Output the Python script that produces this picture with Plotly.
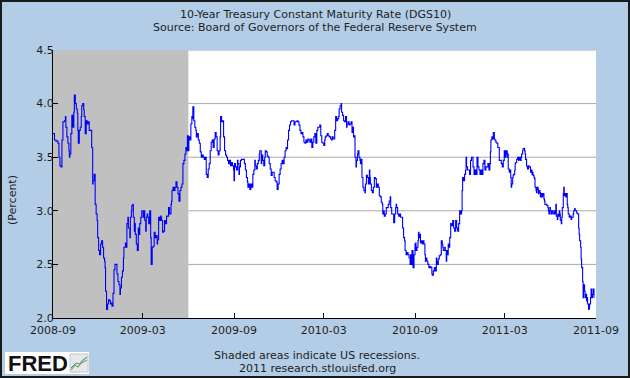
import plotly.graph_objects as go

# ---------------- data ----------------
dates = [
 "2008-09-01","2008-09-04","2008-09-07","2008-09-11","2008-09-13","2008-09-15","2008-09-17","2008-09-19","2008-09-21","2008-09-24",
 "2008-09-26","2008-09-27","2008-09-29","2008-10-01","2008-10-03","2008-10-04","2008-10-05","2008-10-07","2008-10-09","2008-10-11",
 "2008-10-13","2008-10-14","2008-10-16","2008-10-18","2008-10-20","2008-10-21","2008-10-22","2008-10-24","2008-10-26","2008-10-28",
 "2008-10-29","2008-10-31","2008-11-02","2008-11-03","2008-11-05","2008-11-07","2008-11-09","2008-11-11","2008-11-13","2008-11-15",
 "2008-11-18","2008-11-20","2008-11-21","2008-11-23","2008-11-25","2008-11-27","2008-11-29","2008-11-30","2008-12-02","2008-12-04",
 "2008-12-06","2008-12-08","2008-12-10","2008-12-12","2008-12-14","2008-12-15","2008-12-16","2008-12-18","2008-12-20","2008-12-22",
 "2008-12-24","2008-12-26","2008-12-28","2008-12-29","2008-12-31","2009-01-02","2009-01-04","2009-01-06","2009-01-08","2009-01-10",
 "2009-01-12","2009-01-14","2009-01-15","2009-01-17","2009-01-19","2009-01-21","2009-01-22","2009-01-24","2009-01-25","2009-01-27",
 "2009-01-28","2009-01-30","2009-01-31","2009-02-03","2009-02-04","2009-02-06","2009-02-07","2009-02-09","2009-02-10","2009-02-12",
 "2009-02-13","2009-02-14","2009-02-16","2009-02-18","2009-02-20","2009-02-21","2009-02-23","2009-02-25","2009-02-27",
 "2009-03-02","2009-03-03","2009-03-05","2009-03-07","2009-03-08","2009-03-10","2009-03-11","2009-03-13","2009-03-15","2009-03-17",
 "2009-03-18","2009-03-20","2009-03-22","2009-03-24","2009-03-26","2009-03-28","2009-03-30","2009-03-31","2009-04-02","2009-04-04",
 "2009-04-06","2009-04-07","2009-04-08","2009-04-10","2009-04-12","2009-04-14","2009-04-16","2009-04-18","2009-04-20","2009-04-22",
 "2009-04-24","2009-04-27","2009-04-28","2009-04-29","2009-05-01","2009-05-03","2009-05-05","2009-05-07","2009-05-09","2009-05-11",
 "2009-05-13","2009-05-15","2009-05-17","2009-05-19","2009-05-21","2009-05-23","2009-05-25","2009-05-27","2009-05-28","2009-05-30",
 "2009-06-01","2009-06-02","2009-06-04","2009-06-06","2009-06-08","2009-06-09","2009-06-10","2009-06-12","2009-06-14","2009-06-16",
 "2009-06-17","2009-06-19","2009-06-21","2009-06-23","2009-06-25","2009-06-27","2009-06-29","2009-07-01","2009-07-03","2009-07-05",
 "2009-07-07","2009-07-09","2009-07-11","2009-07-13","2009-07-15","2009-07-17","2009-07-19","2009-07-21","2009-07-23","2009-07-25",
 "2009-07-27","2009-07-29","2009-07-31","2009-08-02","2009-08-04","2009-08-05","2009-08-07","2009-08-09","2009-08-11","2009-08-13",
 "2009-08-15","2009-08-17","2009-08-19","2009-08-21","2009-08-23","2009-08-25","2009-08-27","2009-08-29","2009-08-31",
 "2009-09-01","2009-09-02","2009-09-04","2009-09-06","2009-09-08","2009-09-09","2009-09-11","2009-09-12","2009-09-14","2009-09-16",
 "2009-09-18","2009-09-20","2009-09-22","2009-09-24","2009-09-26","2009-09-28","2009-09-29","2009-10-01","2009-10-03","2009-10-05",
 "2009-10-07","2009-10-09","2009-10-11","2009-10-13","2009-10-14","2009-10-16","2009-10-18","2009-10-20","2009-10-22","2009-10-23",
 "2009-10-24","2009-10-26","2009-10-27","2009-10-29","2009-10-31","2009-11-02","2009-11-03","2009-11-05","2009-11-07","2009-11-09",
 "2009-11-11","2009-11-13","2009-11-15","2009-11-17","2009-11-19","2009-11-21","2009-11-23","2009-11-25","2009-11-27","2009-11-29",
 "2009-12-01","2009-12-03","2009-12-05","2009-12-07","2009-12-09","2009-12-11","2009-12-13","2009-12-15","2009-12-17","2009-12-18",
 "2009-12-20","2009-12-22","2009-12-24","2009-12-26","2009-12-29","2009-12-31","2010-01-02","2010-01-04","2010-01-06","2010-01-08",
 "2010-01-10","2010-01-12","2010-01-14","2010-01-16","2010-01-18","2010-01-20","2010-01-22","2010-01-24","2010-01-26","2010-01-28",
 "2010-01-30","2010-02-01","2010-02-03","2010-02-05","2010-02-07","2010-02-09","2010-02-11","2010-02-13","2010-02-15","2010-02-17",
 "2010-02-19","2010-02-21","2010-02-23","2010-02-25","2010-02-27",
 "2010-03-01","2010-03-03","2010-03-04","2010-03-06","2010-03-08","2010-03-10","2010-03-12","2010-03-15","2010-03-17","2010-03-18",
 "2010-03-20","2010-03-22","2010-03-23","2010-03-25","2010-03-27","2010-03-29","2010-03-31","2010-04-01","2010-04-03","2010-04-05",
 "2010-04-06","2010-04-08","2010-04-10","2010-04-12","2010-04-14","2010-04-16","2010-04-17","2010-04-19","2010-04-21","2010-04-23",
 "2010-04-25","2010-04-27","2010-04-28","2010-04-30","2010-05-02","2010-05-03","2010-05-05","2010-05-06","2010-05-08","2010-05-09",
 "2010-05-11","2010-05-13","2010-05-14","2010-05-15","2010-05-17","2010-05-19","2010-05-21","2010-05-23","2010-05-24","2010-05-26",
 "2010-05-28","2010-05-30","2010-06-01","2010-06-02","2010-06-03","2010-06-05","2010-06-07","2010-06-09","2010-06-11","2010-06-13",
 "2010-06-15","2010-06-17","2010-06-19","2010-06-21","2010-06-23","2010-06-25","2010-06-27","2010-06-28","2010-06-29","2010-07-01",
 "2010-07-03","2010-07-05","2010-07-07","2010-07-09","2010-07-11","2010-07-13","2010-07-14","2010-07-16","2010-07-18","2010-07-20",
 "2010-07-22","2010-07-24","2010-07-25","2010-07-26","2010-07-28","2010-07-30","2010-08-01","2010-08-03","2010-08-05","2010-08-07",
 "2010-08-09","2010-08-11","2010-08-12","2010-08-14","2010-08-16","2010-08-18","2010-08-20","2010-08-22","2010-08-23","2010-08-25",
 "2010-08-26",
 "2010-08-28","2010-08-30","2010-09-01","2010-09-02","2010-09-03","2010-09-05","2010-09-07","2010-09-08","2010-09-09","2010-09-11",
 "2010-09-12","2010-09-14","2010-09-16","2010-09-18","2010-09-19","2010-09-21","2010-09-22","2010-09-23","2010-09-25","2010-09-27",
 "2010-09-29","2010-10-01","2010-10-03","2010-10-05","2010-10-06","2010-10-08","2010-10-10","2010-10-12","2010-10-14","2010-10-15",
 "2010-10-16","2010-10-18","2010-10-20","2010-10-22","2010-10-24","2010-10-26","2010-10-27","2010-10-28","2010-10-30","2010-10-31",
 "2010-11-01","2010-11-03","2010-11-04","2010-11-05","2010-11-07","2010-11-08","2010-11-10","2010-11-12","2010-11-14","2010-11-16",
 "2010-11-18","2010-11-20","2010-11-22","2010-11-24","2010-11-26","2010-11-28","2010-11-30","2010-12-02","2010-12-04","2010-12-05",
 "2010-12-06","2010-12-08","2010-12-10","2010-12-12","2010-12-13","2010-12-14","2010-12-16","2010-12-18","2010-12-20","2010-12-22",
 "2010-12-24","2010-12-27","2010-12-29","2010-12-31","2011-01-02","2011-01-04","2011-01-06","2011-01-08","2011-01-10","2011-01-12",
 "2011-01-14","2011-01-16","2011-01-18","2011-01-20","2011-01-22","2011-01-24","2011-01-26","2011-01-28","2011-01-30","2011-01-31",
 "2011-02-01","2011-02-03","2011-02-05","2011-02-06","2011-02-08","2011-02-09","2011-02-11","2011-02-13","2011-02-15","2011-02-18",
 "2011-02-20","2011-02-22","2011-02-24","2011-02-26",
 "2011-02-27","2011-02-28","2011-03-02","2011-03-03","2011-03-04","2011-03-06","2011-03-07","2011-03-08","2011-03-10","2011-03-11",
 "2011-03-13","2011-03-14","2011-03-15","2011-03-17","2011-03-18","2011-03-19","2011-03-21","2011-03-22","2011-03-23","2011-03-25",
 "2011-03-26","2011-03-27","2011-03-29","2011-03-30","2011-03-31","2011-04-02","2011-04-03","2011-04-04","2011-04-06","2011-04-07",
 "2011-04-08","2011-04-10","2011-04-11","2011-04-12","2011-04-14","2011-04-15","2011-04-16","2011-04-18","2011-04-19","2011-04-20",
 "2011-04-22","2011-04-23","2011-04-25","2011-04-26","2011-04-27","2011-04-29","2011-04-30","2011-05-01","2011-05-03","2011-05-04",
 "2011-05-05","2011-05-07","2011-05-08","2011-05-09","2011-05-11","2011-05-12","2011-05-13","2011-05-15","2011-05-16","2011-05-17",
 "2011-05-19","2011-05-20","2011-05-21","2011-05-23","2011-05-24","2011-05-25","2011-05-27","2011-05-28","2011-05-29","2011-05-31",
 "2011-06-01","2011-06-03","2011-06-04","2011-06-05","2011-06-07","2011-06-08","2011-06-09","2011-06-11","2011-06-12","2011-06-13",
 "2011-06-15","2011-06-16","2011-06-17","2011-06-19","2011-06-20","2011-06-21","2011-06-23","2011-06-24","2011-06-25","2011-06-27",
 "2011-06-28","2011-06-29","2011-07-01","2011-07-02","2011-07-03","2011-07-05","2011-07-06","2011-07-07","2011-07-09","2011-07-10",
 "2011-07-11","2011-07-13","2011-07-14","2011-07-16","2011-07-17","2011-07-18","2011-07-20","2011-07-21","2011-07-22","2011-07-24",
 "2011-07-25","2011-07-26","2011-07-28","2011-07-29","2011-07-30","2011-08-01","2011-08-02","2011-08-03","2011-08-05","2011-08-06",
 "2011-08-07","2011-08-09","2011-08-10","2011-08-11","2011-08-13","2011-08-14","2011-08-15","2011-08-17","2011-08-18","2011-08-19",
 "2011-08-21","2011-08-22","2011-08-24","2011-08-25","2011-08-27","2011-08-28",
]

rate = [
 3.72,3.66,3.65,3.63,3.50,3.42,3.41,3.66,3.83,3.84,
 3.88,3.78,3.69,3.63,3.56,3.50,3.53,3.72,3.89,3.78,
 3.92,4.08,4.00,3.95,3.91,3.75,3.63,3.75,3.78,3.88,
 3.98,4.00,3.94,3.88,3.72,3.84,3.81,3.83,3.75,3.75,
 3.59,3.25,3.28,3.34,3.06,2.97,2.91,2.75,2.63,2.59,
 2.69,2.72,2.66,2.56,2.53,2.47,2.25,2.08,2.13,2.17,
 2.16,2.13,2.14,2.11,2.23,2.45,2.50,2.50,2.41,2.34,
 2.31,2.22,2.28,2.38,2.44,2.56,2.66,2.66,2.70,2.66,
 2.88,2.94,2.84,2.75,2.94,3.00,3.05,3.06,2.94,2.81,
 2.88,2.78,2.69,2.63,2.84,2.78,2.88,2.94,3.00,
 2.94,3.00,2.91,2.81,2.94,2.97,2.94,2.88,3.00,2.75,
 2.50,2.66,2.67,2.80,2.75,2.77,2.69,2.73,2.94,2.91,
 2.95,2.94,2.91,2.80,2.81,2.91,2.88,2.95,2.95,3.03,
 2.97,3.06,3.09,3.19,3.22,3.19,3.22,3.27,3.22,3.16,
 3.09,3.19,3.22,3.25,3.44,3.47,3.53,3.59,3.56,3.70,
 3.56,3.69,3.66,3.81,3.88,3.86,3.97,3.84,3.78,3.75,
 3.69,3.72,3.66,3.63,3.55,3.50,3.52,3.50,3.48,3.50,
 3.34,3.31,3.39,3.44,3.56,3.64,3.66,3.59,3.67,3.73,
 3.69,3.56,3.52,3.56,3.69,3.88,3.83,3.84,3.69,3.56,
 3.52,3.50,3.47,3.44,3.47,3.42,3.45,3.42,3.38,
 3.28,3.44,3.41,3.38,3.47,3.44,3.34,3.41,3.47,3.48,
 3.48,3.48,3.44,3.38,3.31,3.27,3.22,3.25,3.20,3.25,
 3.22,3.34,3.38,3.47,3.42,3.39,3.44,3.47,3.53,3.56,
 3.56,3.44,3.52,3.47,3.42,3.50,3.56,3.55,3.51,3.50,
 3.44,3.39,3.33,3.36,3.36,3.31,3.28,3.27,3.20,3.25,
 3.34,3.39,3.44,3.47,3.44,3.50,3.56,3.59,3.58,3.66,
 3.75,3.80,3.83,3.84,3.84,3.80,3.83,3.83,3.84,3.83,
 3.80,3.75,3.72,3.73,3.69,3.64,3.63,3.66,3.64,3.67,
 3.66,3.64,3.67,3.59,3.64,3.69,3.72,3.63,3.75,3.78,
 3.78,3.80,3.70,3.64,3.63,
 3.61,3.66,3.69,3.70,3.72,3.70,3.69,3.67,3.66,3.69,
 3.67,3.67,3.75,3.88,3.84,3.86,3.88,3.95,3.98,4.00,
 3.92,3.89,3.84,3.83,3.88,3.78,3.81,3.83,3.80,3.81,
 3.83,3.73,3.78,3.69,3.70,3.50,3.41,3.47,3.53,3.56,
 3.50,3.47,3.44,3.48,3.31,3.22,3.19,3.17,3.25,3.33,
 3.31,3.25,3.38,3.31,3.25,3.19,3.17,3.22,3.31,3.30,
 3.22,3.25,3.22,3.14,3.13,3.08,3.06,2.97,3.00,2.95,
 2.97,3.03,3.03,3.06,3.09,3.13,3.03,2.97,2.97,2.89,
 2.97,3.03,3.06,3.03,2.97,2.95,2.97,2.94,2.94,2.84,
 2.75,2.72,2.63,2.59,2.61,2.59,2.56,2.50,2.59,2.50,
 2.63,
 2.47,2.59,2.69,2.70,2.63,2.66,2.72,2.80,2.75,2.78,
 2.70,2.72,2.69,2.72,2.69,2.59,2.53,2.56,2.53,2.50,
 2.47,2.48,2.47,2.41,2.40,2.44,2.47,2.44,2.56,2.53,
 2.50,2.55,2.58,2.59,2.72,2.69,2.66,2.63,2.63,2.66,
 2.63,2.53,2.63,2.59,2.69,2.66,2.75,2.88,2.86,2.91,
 2.84,2.81,2.91,2.84,2.81,2.88,3.00,2.97,3.00,3.19,
 3.31,3.28,3.34,3.38,3.50,3.41,3.38,3.38,3.34,3.47,
 3.50,3.41,3.34,3.38,3.34,3.50,3.41,3.38,3.34,3.38,
 3.34,3.44,3.47,3.38,3.41,3.41,3.44,3.38,3.44,3.55,
 3.66,3.69,3.67,3.73,3.67,3.66,3.64,3.63,3.59,3.47,
 3.47,3.44,3.41,3.47,
 3.47,3.56,3.50,3.53,3.56,3.50,3.53,3.39,3.36,3.38,
 3.31,3.22,3.25,3.31,3.33,3.34,3.38,3.44,3.45,3.48,
 3.48,3.50,3.47,3.48,3.50,3.47,3.50,3.53,3.56,3.58,
 3.58,3.56,3.53,3.48,3.42,3.41,3.39,3.42,3.41,3.41,
 3.36,3.38,3.34,3.36,3.33,3.31,3.30,3.22,3.19,3.17,
 3.22,3.20,3.16,3.19,3.17,3.13,3.16,3.13,3.14,3.16,
 3.11,3.09,3.06,3.06,3.06,3.05,3.03,3.00,2.97,3.03,
 3.00,2.97,3.00,2.98,2.97,3.00,2.97,3.00,3.06,2.95,
 2.92,2.97,2.95,3.00,2.97,2.91,2.88,2.94,3.03,3.16,
 3.22,3.14,3.16,3.13,3.16,3.06,3.03,2.97,2.94,2.94,
 2.95,2.92,2.94,2.94,2.97,3.00,3.02,3.00,3.00,2.98,
 2.98,2.97,2.84,2.78,2.72,2.66,2.55,2.47,2.34,2.19,
 2.31,2.25,2.19,2.22,2.16,2.19,2.13,2.08,2.09,2.13,
 2.19,2.27,2.19,2.22,2.27,2.19,
]

recession_start = "2008-09-01"
recession_end = "2009-06-01"

x_range = ["2008-09-01", "2011-09-01"]
x_tick_vals = ["2008-09-01", "2009-03-01", "2009-09-01", "2010-03-01",
               "2010-09-01", "2011-03-01", "2011-09-01"]
x_tick_text = ["2008-09", "2009-03", "2009-09", "2010-03",
               "2010-09", "2011-03", "2011-09"]
y_range = [2.0, 4.5]
y_tick_vals = [2.0, 2.5, 3.0, 3.5, 4.0, 4.5]
y_tick_text = ["2.0", "2.5", "3.0", "3.5", "4.0", "4.5"]

title_line1 = "10-Year Treasury Constant Maturity Rate (DGS10)"
title_line2 = "Source: Board of Governors of the Federal Reserve System"
y_title = "(Percent)"
note_line1 = "Shaded areas indicate US recessions."
note_line2 = "2011 research.stlouisfed.org"

# ---------------- layout geometry ----------------
W, H = 630, 378
L, R, T, B = 53, 34, 50, 60
PW, PH = W - L - R, H - T - B


def xp(px):
    return (px - L) / PW


def yp(py):
    return (H - B - py) / PH


BG = "#B4CDE6"
FONT = "DejaVu Sans"
TXT = "#1e1e1e"
GRID = "#AAAAAA"

fig = go.Figure()
fig.add_trace(go.Scatter(
    x=dates, y=rate, mode="lines",
    line=dict(color="#0000FF", width=1.1, shape="hv"),
    hoverinfo="x+y", showlegend=False,
))

# recession shading (below the data)
fig.add_shape(type="rect", xref="x", yref="y",
              x0=recession_start, x1=recession_end, y0=y_range[0], y1=y_range[1],
              fillcolor="#C0C0C0", line_width=0, layer="below")
# horizontal grid lines only outside the shaded area (as in the reference)
for v in y_tick_vals[1:]:
    fig.add_shape(type="line", xref="x", yref="y",
                  x0=recession_end, x1=x_range[1], y0=v, y1=v,
                  line=dict(color=GRID, width=1), layer="below")

annotations = [
    dict(text=title_line1, x=xp(315), y=yp(14)),
    dict(text=title_line2, x=xp(315), y=yp(27)),
    dict(text=note_line1, x=xp(317), y=yp(355)),
    dict(text=note_line2, x=xp(317), y=yp(368)),
    dict(text=y_title, x=xp(12), y=yp(200), textangle=-90),
]
for a in annotations:
    a.update(xref="paper", yref="paper", showarrow=False,
             xanchor="center", yanchor="middle",
             font=dict(family=FONT, size=11, color=TXT))
    fig.add_annotation(**a)

# FRED logo box
fig.add_shape(type="rect", xref="paper", yref="paper",
              x0=xp(5), x1=xp(89), y0=yp(374), y1=yp(352),
              fillcolor="white", line_width=0, layer="above")
fig.add_annotation(text="<b>FRED</b>", xref="paper", yref="paper",
                   x=xp(6), y=yp(363), xanchor="left", yanchor="middle",
                   showarrow=False,
                   font=dict(family="Liberation Sans", size=22, color="#111111"))
fig.add_shape(type="rect", xref="paper", yref="paper",
              x0=xp(70), x1=xp(88), y0=yp(372), y1=yp(354),
              fillcolor="#E8E8E8", line=dict(color="#C8C8C8", width=1), layer="above")
fig.add_shape(type="path", xref="paper", yref="paper", layer="above",
              path=f"M {xp(71)},{yp(370)} L {xp(75)},{yp(365)} L {xp(78)},{yp(367)} "
                   f"L {xp(82)},{yp(361)} L {xp(87)},{yp(357)}",
              line=dict(color="#6AA84F", width=1.2))
fig.add_shape(type="path", xref="paper", yref="paper", layer="above",
              path=f"M {xp(71)},{yp(368)} L {xp(76)},{yp(363)} L {xp(80)},{yp(364)} "
                   f"L {xp(87)},{yp(360)}",
              line=dict(color="#5B7FBF", width=1))

# outer frame
fig.add_shape(type="rect", xref="paper", yref="paper",
              x0=xp(1), x1=xp(629), y0=yp(377), y1=yp(1),
              line=dict(color="#1a1a1a", width=2), fillcolor="rgba(0,0,0,0)",
              layer="above")

fig.update_layout(
    width=W, height=H,
    margin=dict(l=L, r=R, t=T, b=B, pad=0),
    paper_bgcolor=BG, plot_bgcolor="white",
    font=dict(family=FONT, size=11, color=TXT),
    showlegend=False,
)
fig.update_xaxes(
    type="date", range=x_range,
    tickmode="array", tickvals=x_tick_vals, ticktext=x_tick_text,
    showgrid=False, showline=True, linecolor="#000000", linewidth=1,
    ticks="inside", ticklen=5, tickcolor="#000000",
    tickfont=dict(family=FONT, size=11, color=TXT),
    ticklabelstandoff=2,
    zeroline=False, fixedrange=True,
)
fig.update_yaxes(
    range=y_range, tickmode="array", tickvals=y_tick_vals, ticktext=y_tick_text,
    showgrid=False,
    showline=True, linecolor="#000000", linewidth=1,
    ticks="inside", ticklen=5, tickcolor="#000000",
    tickfont=dict(family=FONT, size=11, color=TXT),
    ticklabelstandoff=-4,
    zeroline=False, fixedrange=True,
)

fig.write_html("out.html", config={"displayModeBar": False},
               post_script="document.body.style.margin='0';")
